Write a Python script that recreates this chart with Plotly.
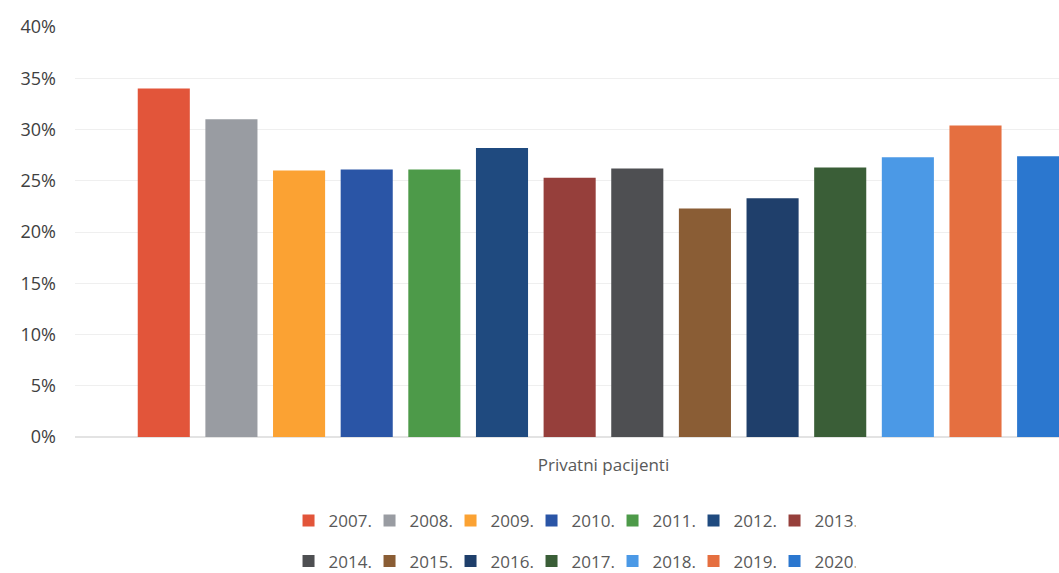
import plotly.graph_objects as go

category = ["Privatni pacijenti"]
years = ["2007.", "2008.", "2009.", "2010.", "2011.", "2012.", "2013.",
         "2014.", "2015.", "2016.", "2017.", "2018.", "2019.", "2020."]
shares = [0.34, 0.31, 0.26, 0.261, 0.261, 0.282, 0.253,
          0.262, 0.223, 0.233, 0.263, 0.273, 0.304, 0.274]
colors = ["#E2553A", "#999CA2", "#FBA233", "#2A55A6", "#4D9A49", "#1F4A7F", "#963F3B",
          "#4E4F52", "#8A5D35", "#1F3F6B", "#3A5E37", "#4B99E6", "#E56F40", "#2B77CF"]

fig = go.Figure()

for i, (yr, val, col) in enumerate(zip(years, shares, colors)):
    fig.add_trace(go.Bar(
        x=category, y=[val], name=yr,
        marker=dict(color=col, line=dict(width=0)),
        legend="legend" if i < 7 else "legend2",
    ))

# legends are placed against the container so they don't push the margins
legend_style = dict(
    orientation="h", xanchor="left", yanchor="middle", yref="container",
    font=dict(size=17, color="#595959"),
    entrywidth=36, itemwidth=30, tracegroupgap=0,
    bgcolor="rgba(0,0,0,0)",
)

fig.update_layout(
    width=1059, height=573,
    margin=dict(l=75, r=0, t=27, b=136),
    paper_bgcolor="white", plot_bgcolor="white",
    font=dict(family="Open Sans, Lato, sans-serif", color="#404040"),
    barmode="group", bargap=0.104, bargroupgap=0.23,
    showlegend=True,
    legend=dict(x=0.217, y=0.091, **legend_style),
    legend2=dict(x=0.217, y=0.02, **legend_style),
    xaxis=dict(
        range=[-0.5, 0.431], showgrid=False, showline=False, zeroline=False,
        tickfont=dict(size=17, color="#595959"), ticklabelstandoff=16,
    ),
    yaxis=dict(
        range=[0, 0.40], dtick=0.05, tickformat=".0%",
        gridcolor="#EFEFEF", gridwidth=1, zeroline=True, zerolinecolor="#E3E3E3",
        showline=False, tickfont=dict(size=18, color="#404040"), ticklabelstandoff=18,
    ),
)

# drop the default body margin so the figure fills the window exactly
fig.write_html("out.html", config={"displayModeBar": False},
               post_script="document.body.style.margin='0';")
